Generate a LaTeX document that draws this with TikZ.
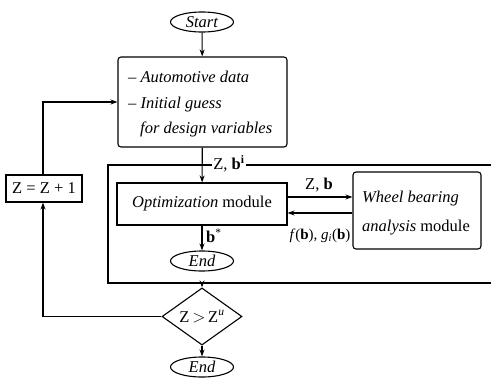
\documentclass[tikz,border=0pt]{standalone}
\usepackage{fontspec}
\setmainfont{Liberation Serif}
\usetikzlibrary{shapes.geometric,arrows.meta}
\begin{document}
\begin{tikzpicture}[x=1pt,y=-1pt,
  every node/.style={font=\fontsize{16.5}{19}\selectfont},
  line/.style={line width=1.1pt},
  arr/.style={line width=1.1pt,-{Stealth[length=7pt,width=5pt]}},
  term/.style={ellipse,draw,line width=1.1pt,minimum width=63pt,minimum height=20pt,inner sep=0pt},
  rbox/.style={draw,line width=1.1pt,rounded corners=3pt,inner sep=0pt},
  sbox/.style={draw,line width=1.1pt,inner sep=0pt}]
\useasboundingbox (0,0) rectangle (491,383);
% terminals
\node[term] (start) at (202,22) {\textit{Start}};
\node[rbox,minimum width=169pt,minimum height=90pt] (init) at (202.5,102) {};
\node[anchor=base west,inner sep=0pt] (t1) at (128,82) {\textit{– Automotive data}};
\node[anchor=base west,inner sep=0pt] (t2) at (128,108) {\textit{– Initial guess}};
\node[anchor=base west,inner sep=0pt] (t3) at (140,133) {\textit{for design variables}};
% frame
\coordinate (fr1) at (491,165);
\coordinate (fr2) at (108,165);
\coordinate (fr3) at (108,283);
\coordinate (fr4) at (491,283);
\draw[line] (fr1) -- (fr2) -- (fr3) -- (fr4);
\node[sbox,minimum width=170pt,minimum height=42pt] (opt) at (202,204) {\textit{Optimization} module};
\node[rbox,minimum width=128pt,minimum height=77pt] (wheel) at (417,210.5) {};
\node[anchor=base west,inner sep=0pt] (w1) at (362,202) {\textit{Wheel bearing}};
\node[anchor=base west,inner sep=0pt] (w2) at (362,231) {\textit{analysis} module};
\node[term] (end1) at (202,261) {\textit{End}};
\node[diamond,draw,line width=1.1pt,minimum width=80pt,minimum height=33pt,inner sep=0pt] (dia) at (202,316.5) {Z\,$>$\,Z\textsuperscript{\textit{u}}};
\node[term] (end2) at (202,367) {\textit{End}};
\node[sbox,minimum width=76pt,minimum height=27pt] (zz) at (44,188.5) {Z = Z + 1};
% connectors
\draw[arr] (start) -- (init);
\draw[arr] (init) -- (opt);
\node[fill=white,inner sep=1pt] (lzb) at (229,164) {Z, \textbf{b}\textsuperscript{\textbf{i}}};
\draw[arr] (opt.east |- 0,197) -- (wheel.west |- 0,197);
\draw[arr] (wheel.west |- 0,213) -- (opt.east |- 0,213);
\node (lzb2) at (319,185) {Z, \textbf{b}};
\node[font=\fontsize{15}{17}\selectfont] (lfg) at (320,236) {\textit{f}(\textbf{b}), \textit{g}\textsubscript{\textit{i}}(\textbf{b})};
\draw[arr] (opt) -- (end1);
\node[anchor=west,inner sep=1pt] (lbs) at (205,236) {\textbf{b}\textsuperscript{*}};
\coordinate (fb) at (202,283);
\draw[arr] (fb) -- (dia);
\coordinate (c1) at (43,316.5);
\draw[arr] (dia.west) -- (c1) -- (zz.south -| c1);
\coordinate (c2) at (43,102);
\draw[arr] (zz.north -| c2) -- (c2) -- (init.west |- c2);
\draw[arr] (dia) -- (end2);
\end{tikzpicture}
\end{document}
